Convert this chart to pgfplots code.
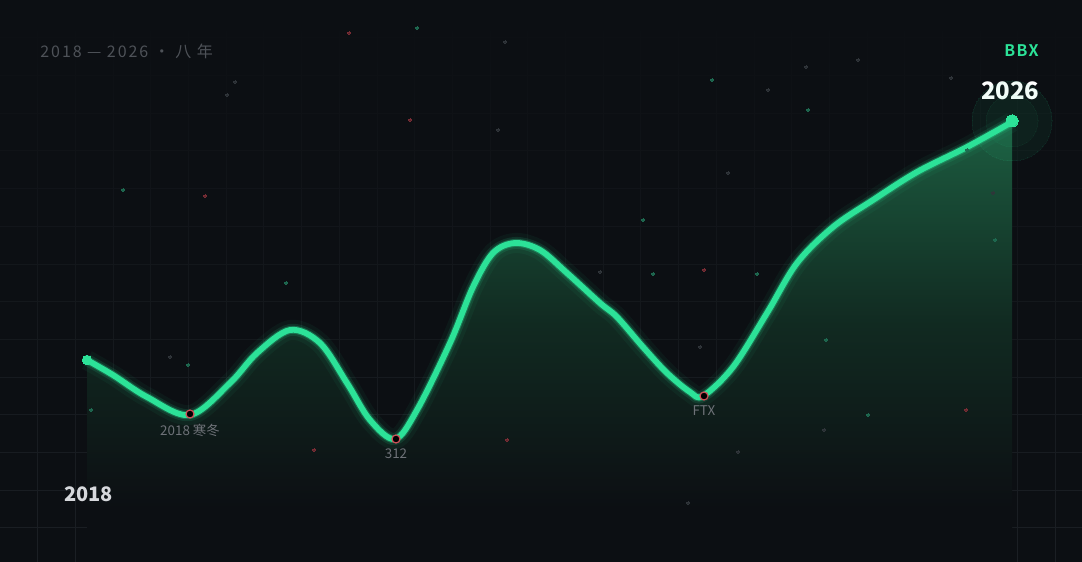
\documentclass[border=0pt]{standalone}
\usepackage{fontspec}
\setmainfont{Noto Sans CJK SC}
\newfontfamily\spacedfont[LetterSpace=12]{Noto Sans CJK SC}
\newfontfamily\spacedbold[LetterSpace=8]{Noto Sans CJK SC Bold}
\usepackage{pgfplots}
\pgfplotsset{compat=1.18}
\usetikzlibrary{fadings}
\definecolor{bg}{RGB}{12,15,19}
\definecolor{lineg}{RGB}{44,226,152}
\definecolor{fillmid}{RGB}{17,42,33}
\definecolor{filltop}{RGB}{28,92,64}
\definecolor{gridc}{RGB}{28,32,37}
\definecolor{lblgrey}{RGB}{110,114,120}
\definecolor{topgrey}{RGB}{78,82,88}
\definecolor{dotred}{RGB}{120,44,52}
\definecolor{ringred}{RGB}{205,78,88}
\definecolor{dotgreen}{RGB}{30,105,80}
\definecolor{dotgrey}{RGB}{48,53,58}
\pgfdeclareverticalshading{areafade}{100bp}{color(0bp)=(bg); color(31bp)=(bg); color(52bp)=(fillmid); color(75bp)=(filltop); color(100bp)=(filltop)}
\tikzfading[name=gridfade, top color=transparent!100, middle color=transparent!40, bottom color=transparent!0]
\pgfplotstableread{
x y
87 202
113 187
147 165
190 147
230 179
257 209
290 232
320 219
347 179
370 142
395 123
417 152
450 219
473 275
493 309
515 319
540 312
567 289
600 259
617 245
643 215
667 189
690 170
703 166
733 195
767 249
797 299
833 335
873 362
917 390
967 415
1012 440
}\curve
\begin{document}
\begin{tikzpicture}
\begin{axis}[
  scale only axis, width=541pt, height=281pt,
  xmin=0, xmax=1082, ymin=0, ymax=562,
  hide axis, clip=true,
]
% background
\fill[bg] (axis cs:0,0) rectangle (axis cs:1082,562);
% grid
\draw[gridc, line width=0.5pt, path fading=gridfade]
  \foreach \k in {1,...,28} {(axis cs:{37.7*\k},0) -- (axis cs:{37.7*\k},562)}
  \foreach \k in {1,...,14} {(axis cs:0,{562-37.7*\k}) -- (axis cs:1082,{562-37.7*\k})};
% scattered dust
\addplot[only marks, mark=*, mark size=0.7pt, mark options={draw=dotgreen, fill=dotgreen, line width=0pt}] coordinates {
(417,534) (123,372) (286,279) (188,197) (91,152) (757,288) (868,147) (995,322) (808,452) (712,482) (653,288) (643,342) (826,222) (967,412)};
\addplot[only marks, mark=*, mark size=0.6pt, mark options={draw=dotred, fill=dotred, line width=0pt}] coordinates {
(349,529) (410,442) (205,366) (314,112) (966,152) (704,292) (507,122)};
\addplot[only marks, mark=*, mark size=0.6pt, mark options={draw=dotgrey, fill=dotgrey, line width=0pt}] coordinates {
(505,520) (235,480) (227,467) (498,432) (600,290) (170,205) (700,215) (688,59) (824,132) (738,110) (993,369) (951,484) (806,495) (858,502) (768,472) (728,389)};
% halo
\addplot[only marks, mark=*, mark size=20pt, mark options={draw=lineg, fill=lineg, line width=0pt, opacity=0.06}] coordinates {(1012,441)};
\addplot[only marks, mark=*, mark size=13pt, mark options={draw=lineg, fill=lineg, line width=0pt, opacity=0.04}] coordinates {(1012,441)};
% area
\addplot[draw=none, shading=areafade, smooth, tension=0.55] table[x=x,y=y]{\curve} \closedcycle;
% glow layers
\addplot[lineg, opacity=0.05, line width=10pt, smooth, tension=0.55] table[x=x,y=y]{\curve};
\addplot[lineg, opacity=0.12, line width=6pt, smooth, tension=0.55] table[x=x,y=y]{\curve};
\addplot[lineg, opacity=0.3, line width=4pt, smooth, tension=0.55] table[x=x,y=y]{\curve};
\addplot[lineg, line width=2.9pt, smooth, tension=0.55, line cap=round] table[x=x,y=y]{\curve};
% endpoints
\addplot[only marks, mark=*, mark size=2.4pt, mark options={draw=lineg, fill=lineg, line width=0pt}] coordinates {(87,202)};
\addplot[only marks, mark=*, mark size=3pt, mark options={draw=lineg, fill=lineg, line width=0pt}] coordinates {(1012,441)};
% event markers
\addplot[only marks, mark=*, mark size=2pt, mark options={draw=ringred, line width=0.6pt, fill=black}] coordinates {(190,148) (396,123) (704,166)};
% texts
\node[anchor=west, inner sep=0pt, text=topgrey, font=\fontsize{8}{9}\selectfont\spacedfont] at (axis cs:40,511) {2018 — 2026 · 八 年};
\node[anchor=east, inner sep=0pt, text=lineg, font=\fontsize{8}{9}\selectfont\spacedbold] at (axis cs:1039,511) {BBX};
\node[anchor=east, inner sep=0pt, text=white, font=\fontsize{12}{13}\selectfont\bfseries] at (axis cs:1040,471) {2026};
\node[anchor=west, inner sep=0pt, text={rgb,255:red,214;green,216;blue,220}, font=\fontsize{10}{11}\selectfont\bfseries] at (axis cs:64,68) {2018};
\node[inner sep=0pt, text=lblgrey, font=\fontsize{6.7}{8}\selectfont] at (axis cs:190,132) {2018 寒冬};
\node[inner sep=0pt, text=lblgrey, font=\fontsize{6.7}{8}\selectfont] at (axis cs:396,108) {312};
\node[inner sep=0pt, text=lblgrey, font=\fontsize{6.7}{8}\selectfont] at (axis cs:704,151) {FTX};
\end{axis}
\end{tikzpicture}
\end{document}
